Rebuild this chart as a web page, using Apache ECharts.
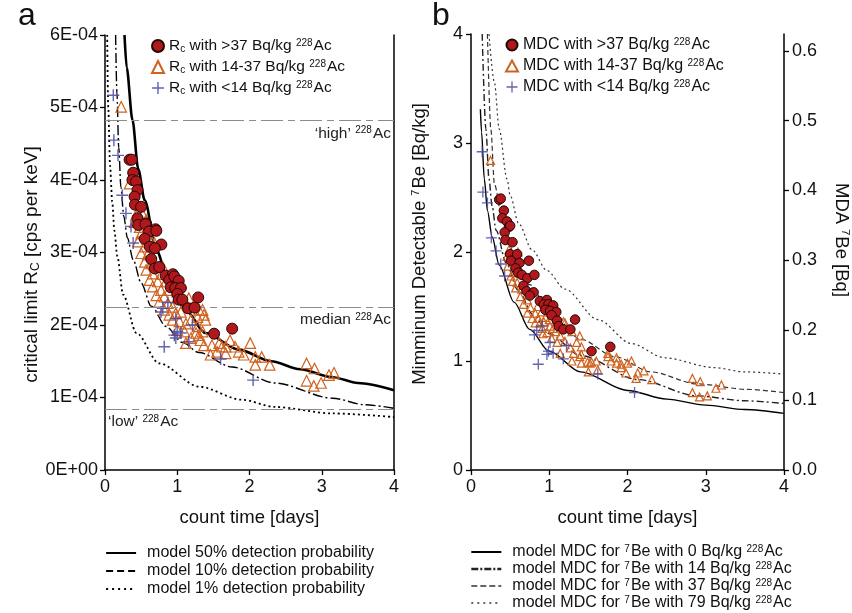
<!DOCTYPE html>
<html><head><meta charset="utf-8">
<script src="https://cdn.jsdelivr.net/npm/echarts@6/dist/echarts.min.js"></script>
<style>html,body{margin:0;padding:0;background:#fff}#c{width:852px;height:613px}</style>
</head><body><div id="c"></div>
<script>
// ---------- DATA ----------
// Panel a: critical limit Rc, in units of 1E-04 cps per keV, vs count time [days]
const xTicks = [0, 1, 2, 3, 4];
const rcTicks = [0, 1, 2, 3, 4, 5, 6];
const mdcTicks = [0, 1, 2, 3, 4];
const mdaTicks = [0, 0.1, 0.2, 0.3, 0.4, 0.5, 0.6];

const rcModel50 = [[0.27,6.0],[0.30,5.55],[0.38,4.83],[0.46,4.15],[0.55,3.72],[0.71,3.03],[0.89,2.58],[1.12,2.2],[1.39,1.89],[1.85,1.66],[2.3,1.5],[2.7,1.39],[3.15,1.28],[3.5,1.2],[4.0,1.1]];
const rcModel10 = [[0.147,6.0],[0.165,5.2],[0.19,4.45],[0.22,3.9],[0.26,3.5],[0.31,3.2],[0.39,2.9],[0.5,2.58],[0.64,2.26],[0.845,1.98],[1.07,1.76],[1.30,1.62],[1.76,1.42],[2.35,1.2],[3.15,0.99],[3.6,0.9],[4.0,0.85]];
const rcModel1 = [[0.03,6.0],[0.045,5.0],[0.07,4.2],[0.1,3.7],[0.13,3.3],[0.17,2.95],[0.25,2.42],[0.434,1.89],[0.75,1.47],[1.3,1.15],[1.89,0.97],[2.35,0.87],[3.15,0.78],[4.0,0.73]];

const refLevels = [4.82, 2.255, 0.84];
const refLabels = ['‘high’ 228Ac', 'median 228Ac', '‘low’ 228Ac'];

const rcHigh = [[0.34,4.28],[0.37,4.28],[0.39,4.10],[0.38,4.00],[0.43,3.98],[0.45,3.86],[0.41,3.77],[0.415,3.66],[0.50,3.63],[0.45,3.47],[0.57,3.40],[0.46,3.38],[0.56,3.39],[0.70,3.32],[0.61,3.29],[0.71,3.30],[0.55,3.19],[0.62,3.08],[0.78,3.11],[0.69,3.06],[0.64,2.91],[0.69,2.78],[0.75,2.80],[0.84,2.68],[0.94,2.70],[0.89,2.62],[0.96,2.67],[1.02,2.61],[0.91,2.52],[0.97,2.51],[1.05,2.51],[1.0,2.43],[1.02,2.35],[1.07,2.35],[1.15,2.23],[1.24,2.24],[1.29,2.38],[1.51,1.88],[1.76,1.95]];
const rcMid = [[0.224,5.01],[0.34,3.95],[0.43,3.52],[0.47,3.50],[0.41,3.42],[0.456,3.54],[0.525,3.52],[0.434,3.45],[0.57,3.45],[0.48,3.35],[0.50,3.26],[0.456,3.15],[0.55,3.08],[0.62,3.2],[0.685,3.13],[0.50,2.99],[0.59,2.97],[0.55,2.87],[0.64,2.85],[0.57,2.76],[0.66,2.71],[0.78,2.70],[0.80,2.80],[0.616,2.62],[0.73,2.60],[0.845,2.60],[0.66,2.53],[0.775,2.48],[0.89,2.48],[1.0,2.46],[0.71,2.41],[0.82,2.39],[0.753,2.32],[0.87,2.30],[0.936,2.25],[0.82,2.21],[0.89,2.14],[0.98,2.16],[1.05,2.18],[1.12,2.30],[1.16,2.37],[0.936,2.07],[1.03,2.05],[1.12,2.02],[1.19,2.07],[1.28,2.11],[1.37,2.14],[1.39,2.07],[1.30,2.21],[1.35,2.21],[1.00,1.93],[1.10,1.91],[1.26,1.89],[1.35,1.91],[1.28,1.98],[1.19,1.82],[1.32,1.79],[1.30,1.86],[1.12,1.75],[1.37,1.72],[1.48,1.72],[1.58,1.75],[1.67,1.70],[1.62,1.70],[1.46,1.59],[1.67,1.61],[1.55,1.63],[1.73,1.79],[1.80,1.70],[1.85,1.63],[2.01,1.75],[1.92,1.59],[2.08,1.56],[2.17,1.56],[2.08,1.45],[2.28,1.45],[2.79,1.47],[2.90,1.40],[3.10,1.31],[3.17,1.34],[2.79,1.23],[2.89,1.16],[2.99,1.20]];
const rcLow = [[0.115,5.17],[0.123,4.55],[0.18,4.34],[0.24,3.79],[0.29,3.54],[0.36,3.36],[0.39,3.13],[0.87,2.31],[0.80,2.23],[0.775,2.18],[0.98,2.09],[1.0,1.91],[0.96,1.86],[1.05,1.89],[0.98,1.82],[1.16,1.77],[1.21,2.0],[0.82,1.70],[1.60,1.53],[2.05,1.24]];

// Panel b: MDC 7Be [Bq/kg] vs count time [days]
const mdcModel0 = [[0.12,3.31],[0.135,3.1],[0.17,2.67],[0.21,2.38],[0.27,2.14],[0.36,1.88],[0.55,1.54],[0.75,1.29],[1.0,1.09],[1.4,0.9],[2.0,0.73],[2.5,0.65],[3.0,0.595],[3.5,0.555],[4.0,0.52]];
const mdcModel14 = [[0.143,4.0],[0.19,3.13],[0.23,2.67],[0.27,2.42],[0.32,2.2],[0.45,1.9],[0.6,1.65],[0.8,1.42],[1.0,1.25],[1.4,1.05],[2.13,0.83],[2.89,0.68],[3.5,0.635],[4.0,0.61]];
const mdcModel37 = [[0.21,4.0],[0.253,3.13],[0.3,2.62],[0.4,2.3],[0.55,1.98],[0.75,1.7],[1.0,1.46],[1.4,1.2],[1.84,1.04],[2.3,0.9],[2.89,0.79],[3.52,0.74],[4.0,0.71]];
const mdcModel79 = [[0.23,4.0],[0.3,3.55],[0.36,3.13],[0.46,2.67],[0.5,2.52],[0.61,2.26],[0.78,2.02],[0.97,1.83],[1.2,1.66],[1.62,1.38],[2.05,1.16],[2.47,1.03],[3.1,0.94],[3.5,0.9],[4.0,0.88]];

const mdcHigh = [[0.36,2.48],[0.38,2.49],[0.42,2.38],[0.40,2.31],[0.46,2.28],[0.485,2.23],[0.50,2.24],[0.43,2.18],[0.44,2.11],[0.53,2.09],[0.50,1.98],[0.59,1.98],[0.51,1.92],[0.62,1.90],[0.74,1.92],[0.57,1.85],[0.60,1.81],[0.65,1.79],[0.72,1.76],[0.81,1.79],[0.67,1.69],[0.71,1.64],[0.78,1.62],[0.80,1.63],[0.75,1.60],[0.88,1.55],[0.97,1.56],[0.93,1.52],[0.99,1.52],[1.05,1.51],[0.95,1.47],[1.01,1.46],[1.09,1.45],[1.03,1.42],[1.10,1.37],[1.12,1.32],[1.18,1.29],[1.27,1.29],[1.33,1.38],[1.54,1.09],[1.78,1.13]];
const mdcMid = [[0.25,2.84],[0.485,2.02],[0.46,1.96],[0.52,1.95],[0.6,2.0],[0.47,1.87],[0.55,1.81],[0.51,1.78],[0.53,1.73],[0.59,1.72],[0.57,1.67],[0.65,1.66],[0.63,1.59],[0.72,1.56],[0.67,1.52],[0.76,1.49],[0.72,1.44],[0.82,1.44],[0.78,1.39],[0.86,1.39],[0.82,1.35],[0.93,1.36],[0.91,1.30],[1.01,1.32],[0.97,1.26],[1.08,1.27],[1.03,1.21],[1.14,1.23],[1.10,1.17],[1.20,1.18],[1.18,1.36],[1.20,1.35],[1.29,1.27],[1.35,1.17],[1.39,1.23],[1.27,1.12],[1.14,1.07],[1.31,1.07],[1.39,1.04],[1.29,1.00],[1.41,0.98],[1.52,0.98],[1.60,1.00],[1.75,1.07],[1.79,1.00],[1.86,1.03],[1.92,0.97],[2.0,0.98],[1.98,0.89],[1.50,0.90],[1.41,1.13],[1.41,1.06],[1.54,0.99],[1.49,0.99],[1.62,0.92],[1.75,1.04],[1.86,0.98],[1.92,0.94],[2.05,1.00],[2.13,0.89],[2.11,0.84],[2.21,0.91],[2.31,0.83],[2.83,0.84],[2.93,0.81],[2.83,0.71],[2.92,0.67],[3.02,0.68],[3.13,0.75],[3.20,0.78],[0.85,1.5],[0.9,1.45],[0.95,1.4],[0.88,1.35],[1.0,1.38],[0.92,1.25],[1.05,1.3]];
const mdcLow = [[0.143,2.92],[0.152,2.55],[0.21,2.45],[0.26,2.13],[0.32,2.01],[0.38,1.89],[0.43,1.78],[0.91,1.32],[0.84,1.28],[0.81,1.24],[1.01,1.17],[0.99,1.09],[0.97,1.06],[1.05,1.07],[1.22,1.14],[1.18,1.02],[0.86,0.97],[1.62,0.88],[2.09,0.71]];

const namesA = ['Rc with >37 Bq/kg 228Ac', 'Rc with 14-37 Bq/kg 228Ac', 'Rc with <14 Bq/kg 228Ac'];
const namesB = ['MDC with >37 Bq/kg 228Ac', 'MDC with 14-37 Bq/kg 228Ac', 'MDC with <14 Bq/kg 228Ac'];
const modelNamesA = ['model 50% detection probability', 'model 10% detection probability', 'model 1% detection probability'];
const modelNamesB = ['model MDC for 7Be with 0 Bq/kg 228Ac', 'model MDC for 7Be with 14 Bq/kg 228Ac', 'model MDC for 7Be with 37 Bq/kg 228Ac', 'model MDC for 7Be with 79 Bq/kg 228Ac'];

// ---------- helpers ----------
const FONT = '"Liberation Sans", Arial, Helvetica, sans-serif';
function rt(s) {
  return s.replace(/228Ac/g, '{s|228}Ac').replace(/\b7Be/g, '{s|7}Be').replace(/^Rc /, 'R{b|c} ');
}
function rich(sz) {
  return {
    s: { fontSize: Math.round(sz * 0.62), verticalAlign: 'top', fontFamily: FONT, color: '#111', padding: [0, 1, 0, 0] },
    b: { fontSize: Math.round(sz * 0.62), verticalAlign: 'bottom', fontFamily: FONT, color: '#111' }
  };
}
const plusPath = 'path://M4.4,0H5.6V4.4H10V5.6H5.6V10H4.4V5.6H0V4.4H4.4Z';
const RED = '#b0181c', ORANGE = '#d0621f', BLUE = '#4a4aa2';

function xAxis(grid) {
  return {
    gridIndex: grid, type: 'value', min: xTicks[0], max: xTicks[xTicks.length - 1], interval: 1,
    name: 'count time [days]', nameLocation: 'middle', nameGap: 38,
    nameTextStyle: { fontSize: 18.5, color: '#111', fontFamily: FONT },
    axisLine: { show: true, onZero: false, lineStyle: { color: '#000', width: 1.5 } },
    axisTick: { show: true, length: 5, lineStyle: { color: '#000', width: 1.3 } },
    axisLabel: { fontSize: 18, color: '#111', margin: 8, fontFamily: FONT },
    splitLine: { show: false }
  };
}
function lineSeries(name, data, xi, yi, style) {
  return { name, type: 'line', xAxisIndex: xi, yAxisIndex: yi, data, symbol: 'none', showSymbol: false,
    smooth: 0.3, smoothMonotone: 'x', lineStyle: Object.assign({ color: '#000' }, style), z: 2, silent: true };
}
function scatter(name, data, xi, yi, kind, size) {
  const s = { name, type: 'scatter', xAxisIndex: xi, yAxisIndex: yi, data, symbolSize: size, z: 3, silent: true };
  if (kind === 'circle') { s.symbol = 'circle'; s.itemStyle = { color: RED, borderColor: '#220606', borderWidth: 1, opacity: 1 }; s.z = 5; }
  if (kind === 'tri') { s.symbol = 'triangle'; s.itemStyle = { color: 'rgba(255,255,255,0)', borderColor: ORANGE, borderWidth: 1.2, opacity: 1 }; }
  if (kind === 'plus') { s.symbol = plusPath; s.itemStyle = { color: BLUE, opacity: 0.85 }; s.z = 4; }
  return s;
}
const legendText = (sz) => ({ fontSize: sz, color: '#111', fontFamily: FONT, rich: rich(sz) });

const chart = echarts.init(document.getElementById('c'), null, { renderer: 'canvas' });
const option = {
  animation: false,
  backgroundColor: '#fff',
  textStyle: { fontFamily: FONT },
  grid: [
    { left: 105, top: 35, width: 289, height: 435, containLabel: false },
    { left: 471, top: 34, width: 315, height: 436, containLabel: false }
  ],
  xAxis: [xAxis(0), xAxis(1)],
  yAxis: [
    { gridIndex: 0, type: 'value', min: rcTicks[0], max: rcTicks[rcTicks.length - 1], interval: 1,
      name: 'critical limit R{b|C} [cps per keV]', nameLocation: 'middle', nameGap: 48,
      nameTextStyle: { fontSize: 19, color: '#111', fontFamily: FONT, rich: rich(19), padding: [0, 24, 0, 0] },
      axisLine: { show: true, lineStyle: { color: '#000', width: 1.5 } },
      axisTick: { show: true, length: 5, lineStyle: { color: '#000', width: 1.3 } },
      axisLabel: { fontSize: 18, color: '#111', margin: 7, fontFamily: FONT,
        formatter: v => v === 0 ? '0E+00' : (v + 'E-04') },
      splitLine: { show: false } },
    { gridIndex: 0, type: 'value', position: 'right', min: 0, max: 6,
      axisLine: { show: true, lineStyle: { color: '#000', width: 1.5 } },
      axisTick: { show: false }, axisLabel: { show: false }, splitLine: { show: false } },
    { gridIndex: 1, type: 'value', min: mdcTicks[0], max: mdcTicks[mdcTicks.length - 1], interval: 1,
      name: 'Mimminum Detectable {s|7}Be [Bq/kg]', nameLocation: 'middle', nameGap: 42,
      nameTextStyle: { fontSize: 18.5, color: '#111', fontFamily: FONT, rich: rich(18.5), padding: [0, 0, 0, 16] },
      axisLine: { show: true, lineStyle: { color: '#000', width: 1.5 } },
      axisTick: { show: true, length: 5, lineStyle: { color: '#000', width: 1.3 } },
      axisLabel: { fontSize: 18, color: '#111', margin: 8, fontFamily: FONT },
      splitLine: { show: false } },
    { gridIndex: 1, type: 'value', position: 'right', min: mdaTicks[0], max: 0.624, interval: 0.1,
      name: 'MDA {s|7}Be [Bq]', nameLocation: 'middle', nameGap: 48, nameRotate: -90,
      nameTextStyle: { fontSize: 18.5, color: '#111', fontFamily: FONT, rich: rich(18.5), padding: [0, 24, 0, 0] },
      axisLine: { show: true, lineStyle: { color: '#000', width: 1.5 } },
      axisTick: { show: true, length: 5, lineStyle: { color: '#000', width: 1.3 } },
      axisLabel: { fontSize: 18, color: '#111', margin: 8, fontFamily: FONT, showMaxLabel: false,
        formatter: v => (Math.abs(v - Math.round(v * 10) / 10) < 1e-6 ? v.toFixed(1) : '') },
      splitLine: { show: false } }
  ],
  legend: [
    { orient: 'vertical', left: 146, top: 33, itemGap: 5, itemWidth: 12, itemHeight: 12,
      data: namesA, formatter: rt, textStyle: legendText(15.5), selectedMode: false },
    { orient: 'vertical', left: 500, top: 32, itemGap: 5, itemWidth: 12, itemHeight: 11,
      data: namesB, formatter: rt, textStyle: legendText(16), selectedMode: false },
    { orient: 'vertical', left: 100, top: 540, itemGap: 2, itemWidth: 30, itemHeight: 14, height: 70,
      data: [
        { name: modelNamesA[0] },
        { name: modelNamesA[1], lineStyle: { type: [7, 4], width: 2.2 } },
        { name: modelNamesA[2], lineStyle: { type: [2, 4], width: 1.8 } }
      ],
      itemStyle: { opacity: 0 }, textStyle: { fontSize: 16, color: '#111', fontFamily: FONT, lineHeight: 16, padding: [0, 0, 0, 6] }, selectedMode: false },
    { orient: 'vertical', left: 465, top: 539, itemGap: 1, itemWidth: 30, itemHeight: 14, height: 75,
      data: [
        { name: modelNamesB[0] },
        { name: modelNamesB[1], lineStyle: { type: [7, 2, 2, 2], width: 2.6 } },
        { name: modelNamesB[2], lineStyle: { type: [6, 3], width: 1.5 } },
        { name: modelNamesB[3], lineStyle: { type: [2, 4], width: 1.5 } }
      ],
      formatter: rt, itemStyle: { opacity: 0 },
      textStyle: Object.assign(legendText(16), { lineHeight: 16, padding: [0, 0, 0, 6] }), selectedMode: false }
  ],
  graphic: [
    { type: 'text', left: 18, top: 0, style: { text: 'a', fontSize: 32, fontFamily: FONT, fill: '#111' } },
    { type: 'text', left: 432, top: 0, style: { text: 'b', fontSize: 32, fontFamily: FONT, fill: '#111' } }
  ],
  series: [
    // reference 228Ac lines in panel a
    { name: 'ref', type: 'line', xAxisIndex: 0, yAxisIndex: 0, data: [], silent: true,
      markLine: { silent: true, symbol: 'none', animation: false,
        lineStyle: { color: '#8c8c8c', type: [22, 5, 7, 5], width: 1.1 },
        data: refLevels.map((v, i) => ({ yAxis: v,
          label: { show: true, position: i === 2 ? 'insideStartBottom' : 'insideEndBottom', distance: [3, 5],
            formatter: rt(refLabels[i]), fontSize: 15.5, color: '#222', fontFamily: FONT, rich: rich(15.5) } })) } },
    lineSeries(modelNamesA[2], rcModel1, 0, 0, { type: [2, 3], width: 1.8 }),
    lineSeries(modelNamesA[1], rcModel10, 0, 0, { type: [10, 3, 2, 3], width: 1.4 }),
    lineSeries(modelNamesA[0], rcModel50, 0, 0, { type: 'solid', width: 2.6 }),
    scatter(namesA[1], rcMid, 0, 0, 'tri', 10.5),
    scatter(namesA[2], rcLow, 0, 0, 'plus', 12),
    scatter(namesA[0], rcHigh, 0, 0, 'circle', 11),

    lineSeries(modelNamesB[0], mdcModel0, 1, 2, { type: 'solid', width: 1.4 }),
    lineSeries(modelNamesB[1], mdcModel14, 1, 2, { type: [7, 3, 2, 3], width: 1.4, color: '#222' }),
    lineSeries(modelNamesB[2], mdcModel37, 1, 2, { type: [5, 3], width: 1.2, color: '#333' }),
    lineSeries(modelNamesB[3], mdcModel79, 1, 2, { type: [2, 3], width: 1.2, color: '#333' }),
    scatter(namesB[1], mdcMid, 1, 2, 'tri', 8),
    scatter(namesB[2], mdcLow, 1, 2, 'plus', 11),
    scatter(namesB[0], mdcHigh, 1, 2, 'circle', 9.5)
  ]
};
chart.setOption(option);
</script>
</body></html>
